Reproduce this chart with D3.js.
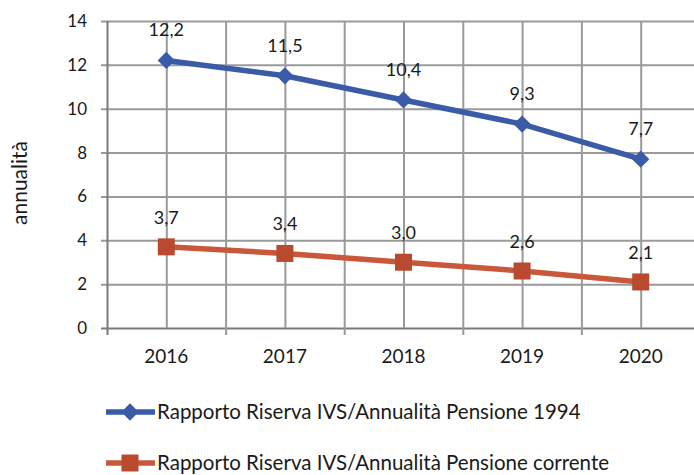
<!DOCTYPE html>
<html><head><meta charset="utf-8">
<script src="https://cdn.jsdelivr.net/npm/d3@7"></script>
<style>body{margin:0;background:#fff}svg{display:block}text{font-family:Lato,"Open Sans",sans-serif;fill:#1a1a1a}</style>
</head><body><svg id="c" width="694" height="475"></svg>
<script>
const categories = ["2016","2017","2018","2019","2020"];
const series1994 = [12.2, 11.5, 10.4, 9.3, 7.7];
const seriesCorrente = [3.7, 3.4, 3.0, 2.6, 2.1];
const labels1994 = ["12,2","11,5","10,4","9,3","7,7"];
const labelsCorrente = ["3,7","3,4","3,0","2,6","2,1"];
const yTicks = [0,2,4,6,8,10,12,14];
const seriesNames = ["Rapporto Riserva IVS/Annualità Pensione 1994","Rapporto Riserva IVS/Annualità Pensione corrente"];

(function(){
const svg = d3.select("#c");
const pL = 107, pR = 700, pT = 21, pB = 328;
const x = d3.scaleBand().domain(categories).range([pL, pR]);
const y = d3.scaleLinear().domain([0,14]).range([pB, pT]);
const blue = "#3a5ba8", red = "#c9583a", redM = "#b94a30";
const gridC = "#9a9a9a", axisC = "#7a7a7a";
const cx = d=>x(d)+x.bandwidth()/2;

// horizontal grid via d3 axis
const yGrid = svg.append("g").attr("transform",`translate(${pL},0)`)
  .call(d3.axisLeft(y).tickValues(yTicks).tickSize(-(pR-pL)).tickFormat(""));
yGrid.select(".domain").remove();
yGrid.selectAll(".tick line").attr("stroke", d=> d===0 ? axisC : gridC).attr("stroke-width", 2)
  .attr("x1", -6).attr("x2", pR-pL);

// vertical grid via d3 axis (band edges and centres)
const xEdge = d3.scalePoint().domain(d3.range(categories.length*2+1)).range([pL, pR]);
const xGrid = svg.append("g").attr("transform",`translate(0,${pB})`)
  .call(d3.axisBottom(xEdge).tickSize(-(pB-pT)).tickFormat(""));
xGrid.select(".domain").remove();
xGrid.selectAll(".tick line").attr("stroke", (d)=> d===0 ? axisC : gridC).attr("stroke-width", 2)
  .attr("y1", d=> d%2===0 ? 7 : 0);

// labels
svg.selectAll("text.yl").data(yTicks).join("text").attr("class","yl")
  .attr("x", 87).attr("y", d=>y(d)).attr("dy","0.35em").attr("text-anchor","end")
  .attr("font-size", 17).text(d=>d);
svg.selectAll("text.xl").data(categories).join("text").attr("class","xl")
  .attr("x", d=>cx(d)).attr("y", 363).attr("text-anchor","middle")
  .attr("font-size", 19).text(d=>d);
svg.append("text").attr("transform","translate(27,183) rotate(-90)").attr("text-anchor","middle")
  .attr("font-size", 21).text("annualità");

const line = d3.line().x((d,i)=>cx(categories[i])).y(d=>y(d));
svg.append("path").datum(series1994).attr("d", line).attr("fill","none").attr("stroke", blue).attr("stroke-width", 5.5);
svg.append("path").datum(seriesCorrente).attr("d", line).attr("fill","none").attr("stroke", red).attr("stroke-width", 5.5);

const diamond = d3.symbol().type(d3.symbolDiamond2).size(190);
svg.selectAll("path.dm").data(series1994).join("path").attr("class","dm")
  .attr("transform",(d,i)=>`translate(${cx(categories[i])},${y(d)})`).attr("d", diamond).attr("fill", blue);
svg.selectAll("rect.sq").data(seriesCorrente).join("rect").attr("class","sq")
  .attr("x",(d,i)=>cx(categories[i])-8.5).attr("y", d=>y(d)-8.5).attr("width",17).attr("height",17).attr("fill", redM);

svg.selectAll("text.l1").data(series1994).join("text").attr("class","l1")
  .attr("x",(d,i)=>cx(categories[i])).attr("y", d=>y(d)-24).attr("text-anchor","middle").attr("font-size",18)
  .text((d,i)=>labels1994[i]);
svg.selectAll("text.l2").data(seriesCorrente).join("text").attr("class","l2")
  .attr("x",(d,i)=>cx(categories[i])).attr("y", d=>y(d)-23).attr("text-anchor","middle").attr("font-size",18)
  .text((d,i)=>labelsCorrente[i]);

const lg = svg.append("g");
[0,1].forEach(i=>{
  const ly = i===0 ? 412 : 463;
  lg.append("line").attr("x1",106).attr("x2",155).attr("y1",ly).attr("y2",ly).attr("stroke", i?red:blue).attr("stroke-width",5.5);
  if(i===0) lg.append("path").attr("transform",`translate(130,${ly})`).attr("d", diamond).attr("fill", blue);
  else lg.append("rect").attr("x",121.5).attr("y",ly-8.5).attr("width",17).attr("height",17).attr("fill", redM);
  lg.append("text").attr("x",157).attr("y",ly).attr("dy","0.35em").attr("font-size",20.5).text(seriesNames[i]);
});
})();
</script></body></html>
